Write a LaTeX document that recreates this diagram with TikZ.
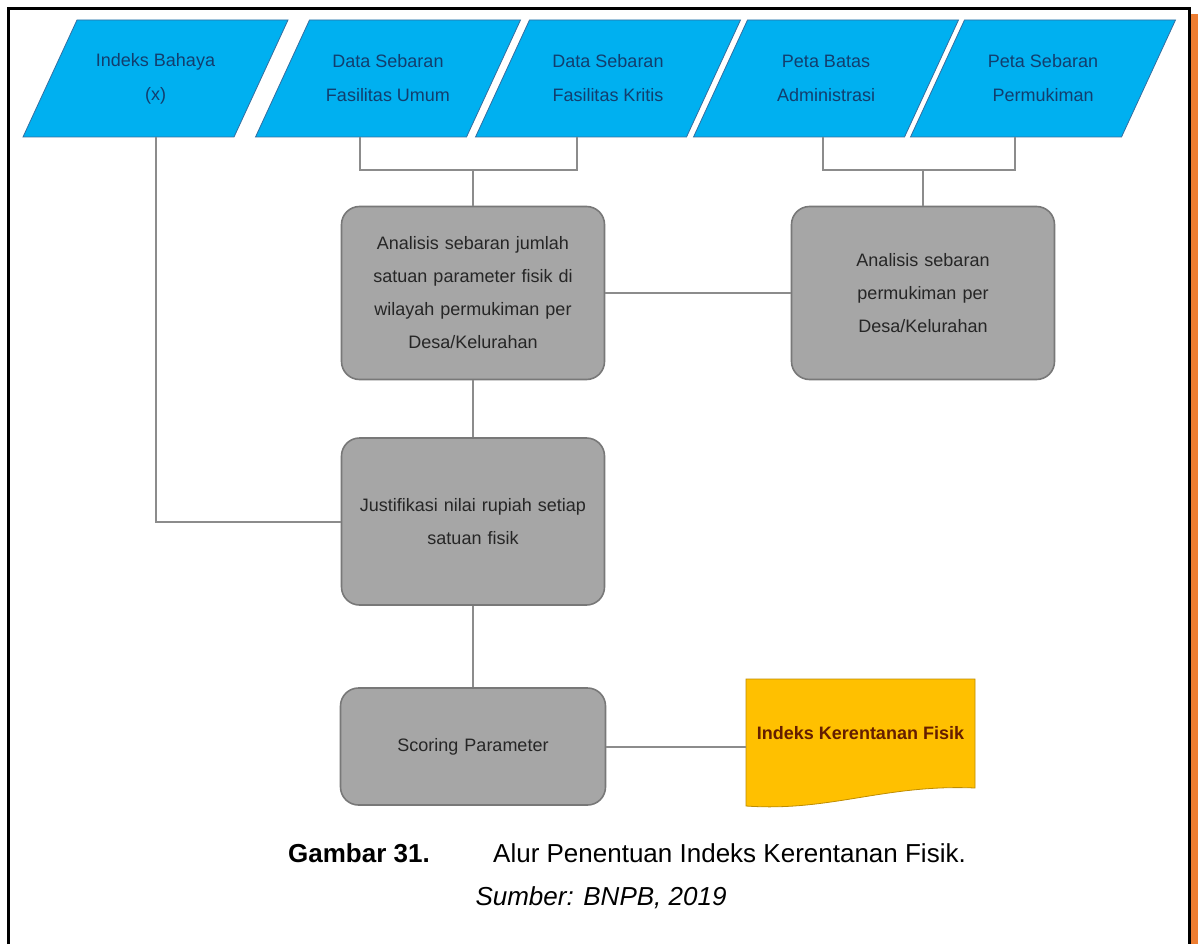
\documentclass[tikz,border=0pt]{standalone}
\usepackage{fontspec}
\setmainfont{Liberation Sans}
\usetikzlibrary{calc}

\definecolor{slabfill}{RGB}{0,176,240}
\definecolor{slabedge}{RGB}{52,110,160}
\definecolor{slabink}{RGB}{18,62,110}
\definecolor{boxfill}{RGB}{166,166,166}
\definecolor{boxedge}{RGB}{120,120,120}
\definecolor{boxink}{RGB}{38,38,38}
\definecolor{linkgray}{RGB}{140,140,140}
\definecolor{docfill}{RGB}{255,192,0}
\definecolor{docedge}{RGB}{190,140,0}
\definecolor{docink}{RGB}{100,30,0}
\definecolor{sidebar}{RGB}{237,125,49}

% input slab: parallelogram of width 211 and slant 54, centred on x = #1
\newcommand\inputslab[1]{%
  \fill[slabfill,draw=slabedge,line width=0.8pt]
    (#1-132.5,137) -- (#1+78.5,137) -- (#1+132.5,20) -- (#1-78.5,20) -- cycle;}

\begin{document}
\begin{tikzpicture}[x=1pt,y=-1pt,
  slabtext/.style={text=slabink,font=\fontsize{18}{34}\selectfont,align=center,
    minimum width=211pt,minimum height=117pt,inner sep=0pt},
  procbox/.style={draw=boxedge,line width=1.6pt,fill=boxfill,rounded corners=18pt,
    text=boxink,font=\fontsize{18}{33}\selectfont,align=center,inner sep=0pt},
  link/.style={draw=linkgray,line width=2pt}]
\useasboundingbox (0,0) rectangle (1198,944);

% page frame and side bar
\fill[sidebar] (1191,14) rectangle (1198,944);
\draw[line width=3pt] (8,944) -- (8,9) -- (1189.5,9) -- (1189.5,944);

% input data slabs
\inputslab{155.5}
\inputslab{388}
\inputslab{608}
\inputslab{826}
\inputslab{1043}
\node[slabtext] (p1) at (155.5,78.5) {Indeks Bahaya\\(x)};
\node[slabtext] (p2) at (388,78.5) {Data Sebaran\\Fasilitas Umum};
\node[slabtext] (p3) at (608,78.5) {Data Sebaran\\Fasilitas Kritis};
\node[slabtext] (p4) at (826,78.5) {Peta Batas\\Administrasi};
\node[slabtext] (p5) at (1043,78.5) {Peta Sebaran\\Permukiman};

% process boxes
\node[procbox,minimum width=263pt,minimum height=173pt,text width=250pt] (A) at (473,293)
  {Analisis sebaran jumlah\\satuan parameter fisik di\\wilayah permukiman per\\Desa/Kelurahan};
\node[procbox,minimum width=263pt,minimum height=173pt,text width=250pt] (B) at (923,293)
  {Analisis sebaran\\permukiman per\\Desa/Kelurahan};
\node[procbox,minimum width=263pt,minimum height=167pt,text width=250pt] (C) at (473,521.5)
  {Justifikasi nilai rupiah setiap\\satuan fisik};
\node[procbox,minimum width=265pt,minimum height=117pt,text width=250pt] (D) at (473,746.5)
  {Scoring Parameter};

% output document
\fill[docfill,draw=docedge,line width=0.8pt]
  (746,679) -- (975,679) -- (975,788)
  .. controls (885,784) and (830,812) .. (746,806) -- cycle;
\node[text=docink,font=\bfseries\fontsize{18}{22}\selectfont,minimum width=229pt,inner sep=0pt]
  (doc) at (860.5,733) {Indeks Kerentanan Fisik};

% connectors
\coordinate (bar) at (0,170);
\coordinate (j1) at (p1.south);
\coordinate (j2) at ($(p2.south)+(-28,0)$);
\coordinate (j3) at ($(p3.south)+(-31,0)$);
\coordinate (j4) at ($(p4.south)+(-3,0)$);
\coordinate (j5) at ($(p5.south)+(-28,0)$);
\draw[link] (j2) -- (j2 |- bar) -- (j3 |- bar) -- (j3);
\draw[link] (A.north |- bar) -- (A.north);
\draw[link] (j4) -- (j4 |- bar) -- (j5 |- bar) -- (j5);
\draw[link] (B.north |- bar) -- (B.north);
\draw[link] (A.east) -- (B.west);
\draw[link] (A.south) -- (C.north);
\draw[link] (j1) |- (C.west);
\draw[link] (C.south) -- (D.north);
\draw[link] (D.east) -- (D.east -| doc.west);

% caption
\node[anchor=base east,font=\bfseries\fontsize{26}{30}\selectfont,inner sep=0pt] (cap1) at (430,862) {Gambar 31.};
\node[anchor=base west,font=\fontsize{26}{30}\selectfont,inner sep=0pt] (cap2) at (493,862) {Alur Penentuan Indeks Kerentanan Fisik.};
\node[anchor=base,font=\itshape\fontsize{26}{30}\selectfont,inner sep=0pt] (src) at (601,905) {Sumber: BNPB, 2019};
\end{tikzpicture}
\end{document}
